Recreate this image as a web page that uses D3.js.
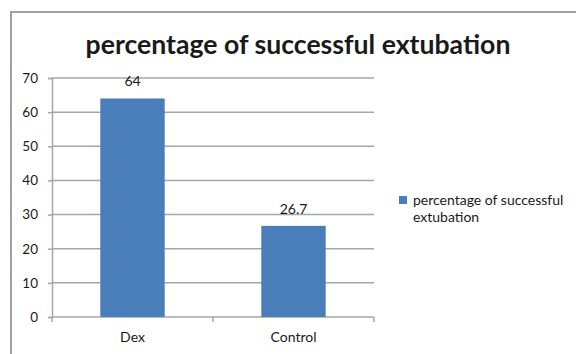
<!DOCTYPE html>
<html>
<head>
<meta charset="utf-8">
<script src="https://cdn.jsdelivr.net/npm/d3@7"></script>
<style>
  body { margin: 0; background: #fff; }
  text { font-family: Lato, "Open Sans", sans-serif; fill: #1a1a1a; }
</style>
</head>
<body>
<div id="chart"></div>
<script>
var categories = ['Dex', 'Control'];
var values = [64, 26.7];
var valueLabels = ['64', '26.7'];
var yTicks = [0, 10, 20, 30, 40, 50, 60, 70];
var seriesName = 'percentage of successful extubation';
var legendLines = ['percentage of successful', 'extubation'];

var W = 576, H = 354;
var plot = {left: 52, right: 374, top: 78, bottom: 317};
var barColor = '#4a7ebb';
var gridColor = '#a6a6a6';

var svg = d3.select('#chart').append('svg')
  .attr('width', W)
  .attr('height', H);

// outer chart border (only top and left visible in the crop)
svg.append('rect')
  .attr('x', 11).attr('y', 12)
  .attr('width', W + 20).attr('height', H + 20)
  .attr('fill', 'none')
  .attr('stroke', '#a0a0a0')
  .attr('stroke-width', 2);

var title = svg.append('text')
  .attr('x', 298).attr('y', 54)
  .attr('text-anchor', 'middle')
  .attr('font-size', 22)
  .attr('font-weight', 'bold')
  .text(seriesName);
// squeeze to the width the title has in the reference
var tw = title.node().getComputedTextLength();
title.attr('font-size', 22 * 425 / tw);

var x = d3.scaleBand()
  .domain(categories)
  .range([plot.left, plot.right])
  .paddingInner(0.6)
  .paddingOuter(0.3);

var y = d3.scaleLinear()
  .domain([0, 70])
  .range([plot.bottom, plot.top]);

// gridlines
svg.append('g').selectAll('line').data(yTicks.slice(1))
  .enter().append('line')
    .attr('x1', plot.left).attr('x2', plot.right)
    .attr('y1', function(d) { return y(d); })
    .attr('y2', function(d) { return y(d); })
    .attr('stroke', gridColor)
    .attr('stroke-width', 1.5);

// y axis
var yAxis = svg.append('g')
  .attr('transform', 'translate(' + plot.left + ',0)')
  .call(d3.axisLeft(y).tickValues(yTicks).tickSize(4).tickPadding(10));
yAxis.select('.domain').attr('stroke', gridColor).attr('stroke-width', 1.5);
yAxis.selectAll('.tick line').attr('stroke', gridColor).attr('stroke-width', 1.5);
yAxis.selectAll('.tick text')
  .attr('font-size', 13.5)
  .attr('font-family', 'Lato, sans-serif')
  .attr('fill', '#1a1a1a');

// x axis
var catScale = d3.scalePoint().domain(categories).range([plot.left, plot.right]).padding(0.5);
var xAxis = svg.append('g')
  .attr('transform', 'translate(0,' + plot.bottom + ')');
xAxis.append('line')
  .attr('x1', plot.left).attr('x2', plot.right)
  .attr('stroke', gridColor).attr('stroke-width', 1.5);
var bounds = [plot.left, (plot.left + plot.right) / 2, plot.right];
xAxis.selectAll('line.tk').data(bounds)
  .enter().append('line')
    .attr('class', 'tk')
    .attr('x1', function(d) { return d; })
    .attr('x2', function(d) { return d; })
    .attr('y1', 0).attr('y2', 5)
    .attr('stroke', gridColor).attr('stroke-width', 1.5);
xAxis.selectAll('text').data(categories)
  .enter().append('text')
    .attr('x', function(d) { return catScale(d); })
    .attr('y', 25)
    .attr('text-anchor', 'middle')
    .attr('font-size', 14)
    .text(function(d) { return d; });

// bars
svg.append('g').selectAll('rect').data(values)
  .enter().append('rect')
    .attr('x', function(d, i) { return x(categories[i]); })
    .attr('y', function(d) { return y(d); })
    .attr('width', x.bandwidth())
    .attr('height', function(d) { return y(0) - y(d); })
    .attr('fill', barColor);

// value labels
svg.append('g').selectAll('text').data(values)
  .enter().append('text')
    .attr('x', function(d, i) { return x(categories[i]) + x.bandwidth() / 2; })
    .attr('y', function(d) { return y(d) - 12; })
    .attr('text-anchor', 'middle')
    .attr('font-size', 14)
    .text(function(d, i) { return valueLabels[i]; });

// legend
var legend = svg.append('g');
legend.append('rect')
  .attr('x', 399).attr('y', 196)
  .attr('width', 8).attr('height', 8)
  .attr('fill', barColor);
legend.selectAll('text').data(legendLines)
  .enter().append('text')
    .attr('x', 413)
    .attr('y', function(d, i) { return 205 + i * 17; })
    .attr('font-size', 14)
    .text(function(d) { return d; });
</script>
</body>
</html>
